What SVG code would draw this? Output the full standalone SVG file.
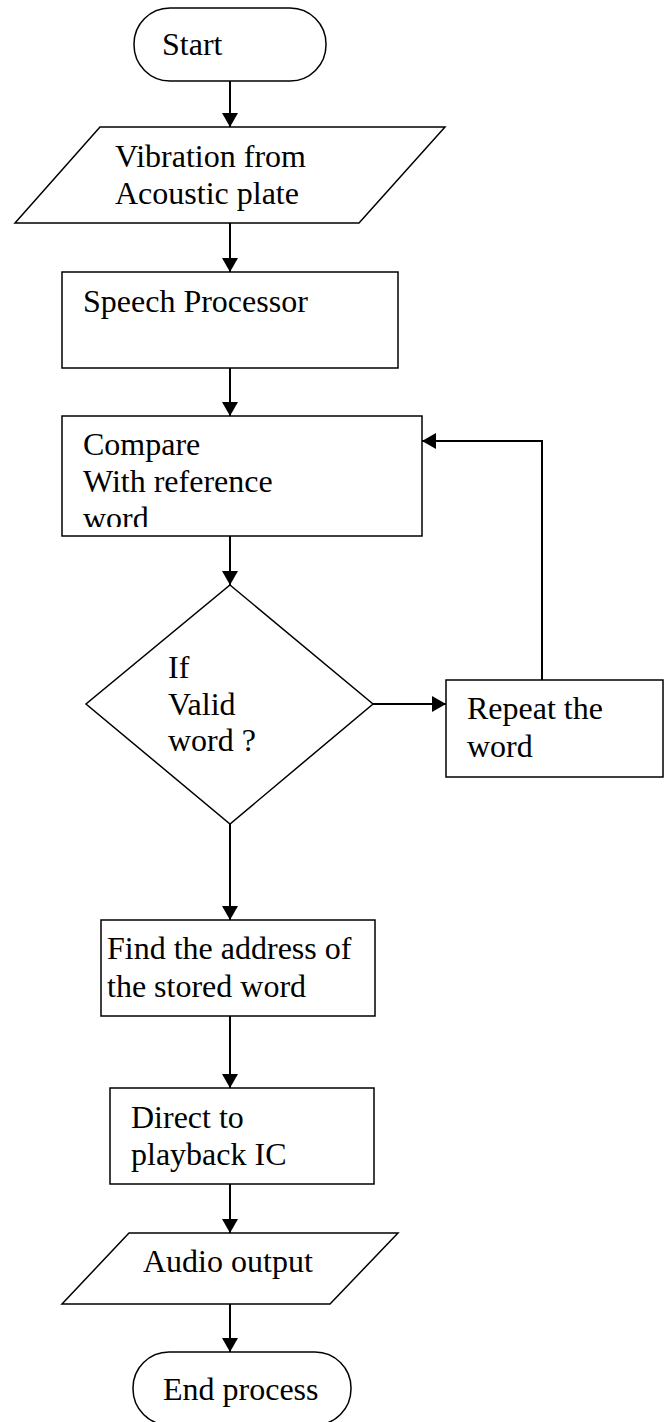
<svg xmlns="http://www.w3.org/2000/svg" width="664" height="1422" viewBox="0 0 664 1422">
<style>
.s{fill:#fff;stroke:#000;stroke-width:1.5}
.t{font-family:"Liberation Serif","Times New Roman",serif;font-size:32px;fill:#000}
.c{fill:none;stroke:#000;stroke-width:2}
</style>
<defs>
<marker id="ah" markerWidth="14" markerHeight="16" refX="14" refY="8" orient="auto" markerUnits="userSpaceOnUse">
<path d="M0,0 L14,8 L0,16 Z" fill="#000"/>
</marker>
<clipPath id="cmpclip"><rect x="62" y="416" width="360" height="111"/></clipPath>
</defs>
<rect width="664" height="1422" fill="#fff"/>
<g id="connectors">
<line class="c" x1="230" y1="81" x2="230" y2="127" marker-end="url(#ah)"/>
<line class="c" x1="230" y1="223" x2="230" y2="272" marker-end="url(#ah)"/>
<line class="c" x1="230" y1="368" x2="230" y2="416" marker-end="url(#ah)"/>
<line class="c" x1="230" y1="536" x2="230" y2="585" marker-end="url(#ah)"/>
<line class="c" x1="373" y1="704" x2="446" y2="704" marker-end="url(#ah)"/>
<polyline class="c" points="542,680 542,441 422,441" marker-end="url(#ah)"/>
<line class="c" x1="230" y1="824" x2="230" y2="920" marker-end="url(#ah)"/>
<line class="c" x1="230" y1="1016" x2="230" y2="1088" marker-end="url(#ah)"/>
<line class="c" x1="230" y1="1184" x2="230" y2="1233" marker-end="url(#ah)"/>
<line class="c" x1="230" y1="1304" x2="230" y2="1352" marker-end="url(#ah)"/>
</g>
<g id="start">
<rect class="s" x="134" y="8" width="192" height="73" rx="36" ry="36"/>
<text class="t" x="162" y="55">Start</text>
</g>
<g id="vibration">
<polygon class="s" points="100,127 445,127 359,223 15,223"/>
<text class="t" x="115" y="167">Vibration from</text>
<text class="t" x="115" y="204">Acoustic plate</text>
</g>
<g id="speech">
<rect class="s" x="62" y="272" width="336" height="96"/>
<text class="t" x="83" y="312">Speech Processor</text>
</g>
<g id="compare">
<rect class="s" x="62" y="416" width="360" height="120"/>
<g clip-path="url(#cmpclip)">
<text class="t" x="83" y="455">Compare</text>
<text class="t" x="83" y="492">With reference</text>
<text class="t" x="83" y="529">word</text>
</g>
</g>
<g id="decision">
<polygon class="s" points="230,585 373,704 230,824 86,704"/>
<text class="t" x="168" y="678">If</text>
<text class="t" x="168" y="715">Valid</text>
<text class="t" x="168" y="751">word ?</text>
</g>
<g id="repeat">
<rect class="s" x="446" y="680" width="217" height="97"/>
<text class="t" x="467" y="719">Repeat the</text>
<text class="t" x="467" y="757">word</text>
</g>
<g id="find">
<rect class="s" x="101" y="920" width="274" height="96"/>
<text class="t" x="107" y="959">Find the address of</text>
<text class="t" x="107" y="997">the stored word</text>
</g>
<g id="direct">
<rect class="s" x="110" y="1088" width="264" height="96"/>
<text class="t" x="131" y="1128">Direct to</text>
<text class="t" x="131" y="1165">playback IC</text>
</g>
<g id="audio">
<polygon class="s" points="129,1233 398,1233 330,1304 62,1304"/>
<text class="t" x="143" y="1272">Audio output</text>
</g>
<g id="end">
<rect class="s" x="133" y="1352" width="218" height="73" rx="36" ry="36"/>
<text class="t" x="163" y="1400">End process</text>
</g>
</svg>
